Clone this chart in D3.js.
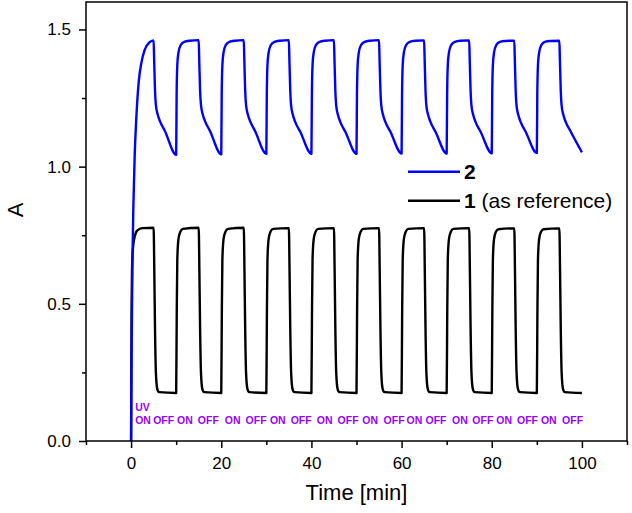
<!DOCTYPE html>
<html>
<head>
<meta charset="utf-8">
<script src="https://cdn.jsdelivr.net/npm/d3@7"></script>
<style>
  html, body { margin: 0; padding: 0; background: #fff; }
  svg { display: block; font-family: 'Liberation Sans', Arial, sans-serif; }
  .axis text { font-size: 17px; fill: #000; }
  .axis line { stroke: #000; stroke-width: 1.5; }
  .axis path { display: none; }
</style>
</head>
<body>
<svg id="chart" width="632" height="513"></svg>
<script>
// sample 2: [time (min), A]
const series2 = [
  [0, 0], [0.1, 0.3], [0.3, 0.65], [0.5, 0.85], [0.8, 1.04], [1.2, 1.19], [1.7, 1.31], [2.3, 1.38], [3, 1.425], [4, 1.452], [5, 1.46],
  [5.1, 1.4], [5.3, 1.28], [5.5, 1.225], [5.9, 1.19], [6.4, 1.166], [7.5, 1.13], [10, 1.043],
  [10.1, 1.26], [10.25, 1.37], [10.5, 1.415], [11, 1.443], [11.8, 1.455], [13, 1.459], [15, 1.461],
  [15.1, 1.4], [15.3, 1.28], [15.5, 1.225], [15.9, 1.19], [16.4, 1.166], [17.5, 1.13], [20, 1.045],
  [20.1, 1.26], [20.25, 1.37], [20.5, 1.415], [21, 1.443], [21.8, 1.455], [23, 1.459], [25, 1.461],
  [25.1, 1.4], [25.3, 1.28], [25.5, 1.225], [25.9, 1.19], [26.4, 1.166], [27.5, 1.13], [30, 1.047],
  [30.1, 1.26], [30.25, 1.37], [30.5, 1.415], [31, 1.443], [31.8, 1.455], [33, 1.459], [35, 1.461],
  [35.1, 1.4], [35.3, 1.28], [35.5, 1.222], [35.9, 1.188], [36.4, 1.163], [37.5, 1.128], [40, 1.047],
  [40.1, 1.26], [40.25, 1.37], [40.5, 1.415], [41, 1.443], [41.8, 1.455], [43, 1.459], [45, 1.461],
  [45.1, 1.4], [45.3, 1.28], [45.5, 1.222], [45.9, 1.188], [46.4, 1.163], [47.5, 1.128], [50, 1.047],
  [50.1, 1.26], [50.25, 1.37], [50.5, 1.415], [51, 1.443], [51.8, 1.455], [53, 1.459], [55, 1.461],
  [55.1, 1.4], [55.3, 1.28], [55.5, 1.222], [55.9, 1.188], [56.4, 1.163], [57.5, 1.128], [60, 1.048],
  [60.1, 1.26], [60.25, 1.37], [60.5, 1.415], [61, 1.443], [61.8, 1.455], [63, 1.459], [65, 1.46],
  [65.1, 1.4], [65.3, 1.28], [65.5, 1.222], [65.9, 1.188], [66.4, 1.163], [67.5, 1.128], [70, 1.048],
  [70.1, 1.26], [70.25, 1.37], [70.5, 1.415], [71, 1.443], [71.8, 1.455], [73, 1.459], [75, 1.46],
  [75.1, 1.4], [75.3, 1.28], [75.5, 1.222], [75.9, 1.188], [76.4, 1.163], [77.5, 1.128], [80, 1.049],
  [80.1, 1.26], [80.25, 1.37], [80.5, 1.415], [81, 1.443], [81.8, 1.455], [83, 1.458], [85, 1.459],
  [85.1, 1.4], [85.3, 1.28], [85.5, 1.222], [85.9, 1.188], [86.4, 1.163], [87.5, 1.128], [90, 1.05],
  [90.1, 1.26], [90.25, 1.37], [90.5, 1.415], [91, 1.443], [91.8, 1.455], [93, 1.458], [95, 1.459],
  [95.1, 1.4], [95.3, 1.28], [95.5, 1.222], [95.9, 1.188], [96.4, 1.163], [97.5, 1.128], [100, 1.052]
];

// sample 1 (as reference)
const series1 = [
  [0, 0], [0.1, 0.45], [0.2, 0.62], [0.4, 0.7], [0.8, 0.745], [1.4, 0.768], [2.5, 0.776], [5, 0.777],
  [5.15, 0.62], [5.3, 0.42], [5.5, 0.25], [5.8, 0.19], [6.2, 0.178], [10, 0.175],
  [10.12, 0.45], [10.25, 0.66], [10.5, 0.735], [10.9, 0.762], [11.5, 0.773], [15, 0.777],
  [15.15, 0.62], [15.3, 0.42], [15.5, 0.25], [15.8, 0.19], [16.2, 0.178], [20, 0.175],
  [20.12, 0.45], [20.25, 0.66], [20.5, 0.735], [20.9, 0.762], [21.5, 0.773], [25, 0.777],
  [25.15, 0.62], [25.3, 0.42], [25.5, 0.25], [25.8, 0.19], [26.2, 0.178], [30, 0.175],
  [30.12, 0.45], [30.25, 0.66], [30.5, 0.735], [30.9, 0.762], [31.5, 0.773], [35, 0.776],
  [35.15, 0.62], [35.3, 0.42], [35.5, 0.25], [35.8, 0.19], [36.2, 0.178], [40, 0.175],
  [40.12, 0.45], [40.25, 0.66], [40.5, 0.735], [40.9, 0.762], [41.5, 0.773], [45, 0.776],
  [45.15, 0.62], [45.3, 0.42], [45.5, 0.25], [45.8, 0.19], [46.2, 0.178], [50, 0.175],
  [50.12, 0.45], [50.25, 0.66], [50.5, 0.735], [50.9, 0.762], [51.5, 0.773], [55, 0.776],
  [55.15, 0.62], [55.3, 0.42], [55.5, 0.25], [55.8, 0.19], [56.2, 0.178], [60, 0.175],
  [60.12, 0.45], [60.25, 0.66], [60.5, 0.735], [60.9, 0.762], [61.5, 0.773], [65, 0.776],
  [65.15, 0.62], [65.3, 0.42], [65.5, 0.25], [65.8, 0.19], [66.2, 0.178], [70, 0.175],
  [70.12, 0.45], [70.25, 0.66], [70.5, 0.735], [70.9, 0.762], [71.5, 0.773], [75, 0.776],
  [75.15, 0.62], [75.3, 0.42], [75.5, 0.25], [75.8, 0.19], [76.2, 0.178], [80, 0.175],
  [80.12, 0.45], [80.25, 0.66], [80.5, 0.735], [80.9, 0.762], [81.5, 0.772], [85, 0.775],
  [85.15, 0.62], [85.3, 0.42], [85.5, 0.25], [85.8, 0.19], [86.2, 0.178], [90, 0.175],
  [90.12, 0.45], [90.25, 0.66], [90.5, 0.735], [90.9, 0.762], [91.5, 0.772], [95, 0.775],
  [95.15, 0.62], [95.3, 0.42], [95.5, 0.25], [95.8, 0.19], [96.2, 0.178], [100, 0.175]
];

// UV ON / OFF marks along the bottom: left edge (min) and text
const uvTimes = [0.9, 4.9, 10.2, 14.8, 20.8, 25.4, 30.8, 35.4, 41.2, 45.8,
                 51.3, 56.0, 61.1, 65.3, 71.2, 75.7, 81.0, 85.6, 90.9, 95.6];
const uvLabels = ['ON', 'OFF', 'ON', 'OFF', 'ON', 'OFF', 'ON', 'OFF', 'ON', 'OFF',
                  'ON', 'OFF', 'ON', 'OFF', 'ON', 'OFF', 'ON', 'OFF', 'ON', 'OFF'];

const xMajor = [0, 20, 40, 60, 80, 100];
const xMinor = [-10, 10, 30, 50, 70, 90, 110];
const yMajor = [0, 0.5, 1.0, 1.5];
const yMinor = [0.25, 0.75, 1.25];

const legendItems = [
  { num: '2', rest: '', color: '#0000ff' },
  { num: '1', rest: ' (as reference)', color: '#000000' }
];

const svg = d3.select('#chart');
const width = +svg.attr('width');
const height = +svg.attr('height');
const margin = { top: 2, right: 5, bottom: 72, left: 86 };
const innerWidth = width - margin.left - margin.right;
const innerHeight = height - margin.top - margin.bottom;

const grp = svg.append('g')
  .attr('transform', 'translate(' + margin.left + ',' + margin.top + ')');

const xScale = d3.scaleLinear().domain([-10, 110]).range([0, innerWidth]);
const yScale = d3.scaleLinear().domain([0, 1.6]).range([innerHeight, 0]);

// axes (ticks outside the frame); minor ticks carry no labels
grp.append('g')
  .attr('class', 'axis')
  .attr('transform', 'translate(0,' + innerHeight + ')')
  .call(d3.axisBottom(xScale).tickValues(xMinor).tickSize(4))
  .selectAll('text').remove();

grp.append('g')
  .attr('class', 'axis')
  .attr('transform', 'translate(0,' + innerHeight + ')')
  .call(d3.axisBottom(xScale).tickValues(xMajor).tickSize(7).tickPadding(9).tickFormat(d3.format('d')));

grp.append('g')
  .attr('class', 'axis')
  .call(d3.axisLeft(yScale).tickValues(yMinor).tickSize(4))
  .selectAll('text').remove();

grp.append('g')
  .attr('class', 'axis')
  .call(d3.axisLeft(yScale).tickValues(yMajor).tickSize(7).tickPadding(8).tickFormat(d3.format('.1f')));

// curves
const line = d3.line()
  .x((d) => xScale(d[0]))
  .y((d) => yScale(d[1]))
  .curve(d3.curveMonotoneX);

grp.append('path')
  .datum(series1)
  .attr('fill', 'none')
  .attr('stroke', '#000')
  .attr('stroke-width', 2.4)
  .attr('stroke-linejoin', 'round')
  .attr('d', line);

grp.append('path')
  .datum(series2)
  .attr('fill', 'none')
  .attr('stroke', '#0000ff')
  .attr('stroke-width', 2.4)
  .attr('stroke-linejoin', 'round')
  .attr('d', line);

// frame
grp.append('rect')
  .attr('x', 0)
  .attr('y', 0)
  .attr('width', innerWidth)
  .attr('height', innerHeight)
  .attr('fill', 'none')
  .attr('stroke', '#000')
  .attr('stroke-width', 1.5);

// UV annotations
const uvColor = '#9a00ff';
grp.append('text')
  .attr('x', xScale(uvTimes[0]))
  .attr('y', innerHeight - 30)
  .attr('fill', uvColor)
  .style('font-size', '10.5px')
  .style('font-weight', 'bold')
  .text('UV');

grp.selectAll('.uv')
  .data(uvTimes)
  .enter()
  .append('text')
  .attr('class', 'uv')
  .attr('x', (d) => xScale(d))
  .attr('y', innerHeight - 17)
  .attr('fill', uvColor)
  .style('font-size', '10.5px')
  .style('font-weight', 'bold')
  .text((d, i) => uvLabels[i]);

// legend
const leg = grp.selectAll('.legend')
  .data(legendItems)
  .enter()
  .append('g')
  .attr('class', 'legend')
  .attr('transform', (d, i) => 'translate(' + (innerWidth - 219) + ',' + (169.7 + i * 29) + ')');

leg.append('line')
  .attr('x1', 0)
  .attr('x2', 52)
  .attr('stroke', (d) => d.color)
  .attr('stroke-width', 2.4);

const legText = leg.append('text')
  .attr('x', 56)
  .attr('y', 7.5)
  .style('font-size', '21px');
legText.append('tspan').style('font-weight', 'bold').text((d) => d.num);
legText.append('tspan').text((d) => d.rest);

// axis titles
svg.append('text')
  .attr('x', margin.left + innerWidth / 2)
  .attr('y', 500)
  .attr('text-anchor', 'middle')
  .style('font-size', '22px')
  .text('Time [min]');

svg.append('text')
  .attr('transform', 'translate(23,210) rotate(-90)')
  .attr('text-anchor', 'middle')
  .style('font-size', '22px')
  .text('A');
</script>
</body>
</html>
